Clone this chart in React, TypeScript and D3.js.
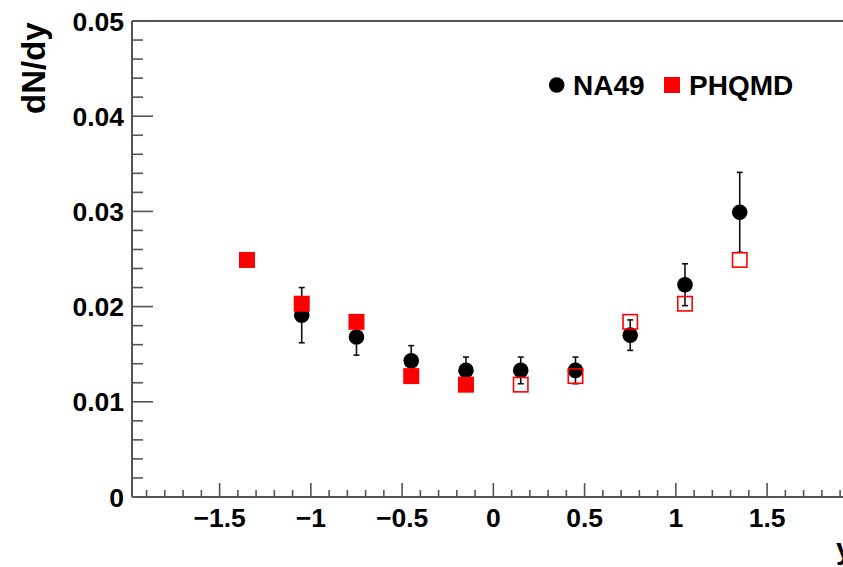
import React from "react";
import * as d3 from "d3";

const W = 843;
const H = 567;

// rapidity bins
const rapidity = [-1.35, -1.05, -0.75, -0.45, -0.15, 0.15, 0.45, 0.75, 1.05, 1.35];

// NA49 measurements (no point at -1.35)
const na49Y = [-1.05, -0.75, -0.45, -0.15, 0.15, 0.45, 0.75, 1.05, 1.35];
const na49Values = [0.0191, 0.0168, 0.0143, 0.0133, 0.0133, 0.0133, 0.0170, 0.0223, 0.0299];
const na49Errors = [0.0029, 0.0019, 0.0016, 0.0014, 0.0014, 0.0014, 0.0016, 0.0022, 0.0042];

// PHQMD (filled for y<0, open for y>0 reflected)
const phqmdValues = [0.0249, 0.0203, 0.0184, 0.0127, 0.0118, 0.0118, 0.0127, 0.0184, 0.0203, 0.0249];
const phqmdOpen = [false, false, false, false, false, true, true, true, true, true];

const xMajorTicks = [-1.5, -1, -0.5, 0, 0.5, 1, 1.5];
const yMajorTicks = [0, 0.01, 0.02, 0.03, 0.04, 0.05];

const FONT = "'Liberation Sans', Arial, Helvetica, sans-serif";

export default function App() {
  const x = d3.scaleLinear().domain([-1.98, 1.98]).range([132, 854.7]);
  const y = d3.scaleLinear().domain([0, 0.05]).range([497, 21]);

  const xMinor = d3.range(-19, 20).map((i) => i / 10).filter((v) => Math.abs(Math.round(v * 2) - v * 2) > 1e-6);
  const yMinor = d3.range(0, 26).map((i) => i * 0.002).filter((v) => Math.abs(Math.round(v * 100) - v * 100) > 1e-6);

  const axisColor = "#555";
  const fmtX = (v: number) => (v < 0 ? "\u2212" + String(Math.abs(v)) : String(v));
  const fmtY = (v: number) => (v === 0 ? "0" : d3.format(".2f")(v));

  const sq = 16;
  const r = 7.8;

  return (
    <svg width={W} height={H} style={{ position: "fixed", left: 0, top: 0, background: "#fff" }} fontFamily={FONT}>
      <rect x={0} y={0} width={W} height={H} fill="#fff" />
      {/* frame */}
      <line x1={x.range()[0]} x2={x.range()[1]} y1={y(0.05)} y2={y(0.05)} stroke={axisColor} strokeWidth={2} />
      <line x1={x.range()[0]} x2={x.range()[0]} y1={y(0)} y2={y(0.05)} stroke={axisColor} strokeWidth={2} />
      <line x1={x.range()[0]} x2={x.range()[1]} y1={y(0)} y2={y(0)} stroke={axisColor} strokeWidth={2} />

      {/* y ticks */}
      {yMajorTicks.map((v) => (
        <g key={"ym" + v}>
          <line x1={x.range()[0]} x2={x.range()[0] + 21} y1={y(v)} y2={y(v)} stroke={axisColor} strokeWidth={1.6} />
          <text x={124} y={y(v) + 9.5} textAnchor="end" fontSize={26.5} fontWeight="bold" fill="#000">
            {fmtY(v)}
          </text>
        </g>
      ))}
      {yMinor.map((v) => (
        <line key={"yn" + v} x1={x.range()[0]} x2={x.range()[0] + 11} y1={y(v)} y2={y(v)} stroke={axisColor} strokeWidth={1.6} />
      ))}

      {/* x ticks */}
      {xMajorTicks.map((v) => (
        <g key={"xm" + v}>
          <line x1={x(v)} x2={x(v)} y1={y(0)} y2={y(0) - 14} stroke={axisColor} strokeWidth={1.6} />
          <text x={x(v)} y={527} textAnchor="middle" fontSize={26.5} fontWeight="bold" fill="#000">
            {fmtX(v)}
          </text>
        </g>
      ))}
      {xMinor.map((v) => (
        <line key={"xn" + v} x1={x(v)} x2={x(v)} y1={y(0)} y2={y(0) - 7} stroke={axisColor} strokeWidth={1.6} />
      ))}

      {/* axis titles */}
      <text transform="translate(45,114) rotate(-90)" textAnchor="start" fontSize={33} fontWeight="bold" fill="#000">
        dN/dy
      </text>
      <text x={836} y={559} fontSize={30} fontWeight="bold" fill="#000">
        y
      </text>

      {/* NA49 error bars */}
      {na49Y.map((v, i) => {
        const top = y(na49Values[i] + na49Errors[i]);
        const bot = y(na49Values[i] - na49Errors[i]);
        return (
          <g key={"e" + i} stroke="#111" strokeWidth={1.6}>
            <line x1={x(v)} x2={x(v)} y1={top} y2={bot} />
            <line x1={x(v) - 3} x2={x(v) + 3} y1={top} y2={top} />
            <line x1={x(v) - 3} x2={x(v) + 3} y1={bot} y2={bot} />
          </g>
        );
      })}
      {/* NA49 markers */}
      {na49Y.map((v, i) => (
        <circle key={"c" + i} cx={x(v)} cy={y(na49Values[i])} r={r} fill="#000" />
      ))}

      {/* PHQMD markers */}
      {rapidity.map((v, i) =>
        phqmdOpen[i] ? (
          <rect
            key={"s" + i}
            x={x(v) - sq / 2 + 0.8}
            y={y(phqmdValues[i]) - sq / 2 + 0.8}
            width={sq - 1.6}
            height={sq - 1.6}
            fill="none"
            stroke="#ff0000"
            strokeWidth={1.6}
          />
        ) : (
          <rect key={"s" + i} x={x(v) - sq / 2} y={y(phqmdValues[i]) - sq / 2} width={sq} height={sq} fill="#ff0000" />
        )
      )}

      {/* legend */}
      <circle cx={556.7} cy={85} r={r} fill="#000" />
      <text x={573} y={95} fontSize={28} fontWeight="bold" fill="#000">
        NA49
      </text>
      <rect x={664} y={77} width={16} height={16} fill="#ff0000" />
      <text x={689} y={95} fontSize={28} fontWeight="bold" fill="#000">
        PHQMD
      </text>
    </svg>
  );
}
